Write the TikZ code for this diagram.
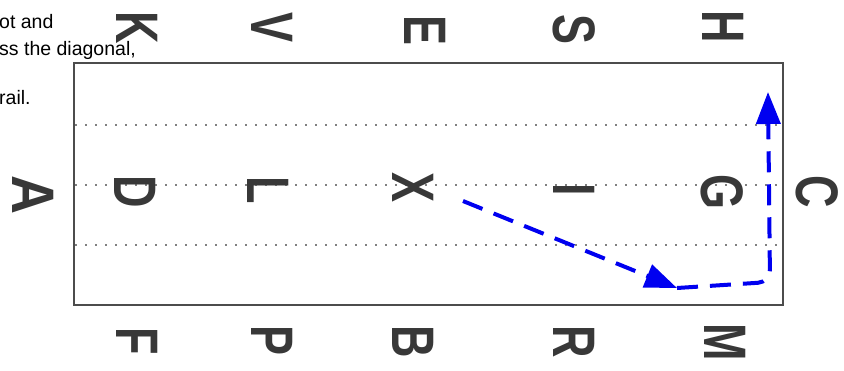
\documentclass[tikz,border=0pt]{standalone}
\usepackage{fontspec}
\setmainfont{Liberation Sans}
\usepackage{xcolor}
\usetikzlibrary{arrows.meta}
\definecolor{ink}{HTML}{383838}
\definecolor{route}{HTML}{0000F0}

\begin{document}
\begin{tikzpicture}[x=1pt,y=-1pt,
  letter/.style={text=ink,font=\fontsize{60}{60}\selectfont\bfseries,rotate=-90,inner sep=0pt},
  note/.style={anchor=base west,font=\fontsize{19.5}{22}\selectfont,inner sep=0pt},
  track/.style={gray,line width=1.5pt,dash pattern=on 1.5pt off 8.5pt},
  path/.style={route,line width=4pt,dash pattern=on 21pt off 12pt},
  tip/.style={-{Triangle[length=32pt,width=24pt]}}]
\useasboundingbox (0,0) rectangle (844,370);
% instructions (cut off at the left)
\node[note] (n1) at (-1,28)  {ot and};
\node[note] (n2) at (-1,55)  {ss the diagonal,};
\node[note] (n3) at (-1,104) {rail.};
% arena
\draw[black!70,line width=2pt] (74,63) rectangle (783,305);
\draw[track] (75,125) -- (782,125);
\draw[track] (75,185) -- (782,185);
\draw[track] (75,245) -- (782,245);
% long side letters
\node[letter] (K) at (137,28)  {\scalebox{0.75}[1]{K}};
\node[letter] (V) at (272,28)  {\scalebox{0.75}[1]{V}};
\node[letter] (E) at (425,31)  {\scalebox{0.75}[1]{E}};
\node[letter] (S) at (574,30)  {\scalebox{0.75}[1]{S}};
\node[letter] (H) at (723,27)  {\scalebox{0.75}[1]{H}};
\node[letter] (F) at (137,341) {\scalebox{0.75}[1]{F}};
\node[letter] (P) at (272,341) {\scalebox{0.75}[1]{P}};
\node[letter] (B) at (413,342) {\scalebox{0.75}[1]{B}};
\node[letter] (R) at (574,342) {\scalebox{0.75}[1]{R}};
\node[letter] (M) at (725,342) {\scalebox{0.75}[1]{M}};
% centre line letters
\node[letter] (A) at (33,195)  {\scalebox{0.9}[1]{A}};
\node[letter] (D) at (135,192) {\scalebox{0.75}[1]{D}};
\node[letter] (L) at (268,190) {\scalebox{0.75}[1]{L}};
\node[letter] (X) at (413,188) {\scalebox{0.75}[1]{X}};
\node[letter] (I) at (574,190) {\scalebox{0.75}[1]{I}};
\node[letter] (G) at (722,192) {\scalebox{0.75}[1]{G}};
\node[letter] (C) at (817,192) {\scalebox{0.75}[1]{C}};
% ridden line
\coordinate (start) at (463,201);
\coordinate (bend)  at (677,288);
\coordinate (turn)  at (770,282);
\coordinate (track end) at (768,92);
\draw[path,tip] (start) -- (bend);
\draw[path,tip,rounded corners=12pt] (bend) -- (turn) -- (track end);
\end{tikzpicture}
\end{document}
